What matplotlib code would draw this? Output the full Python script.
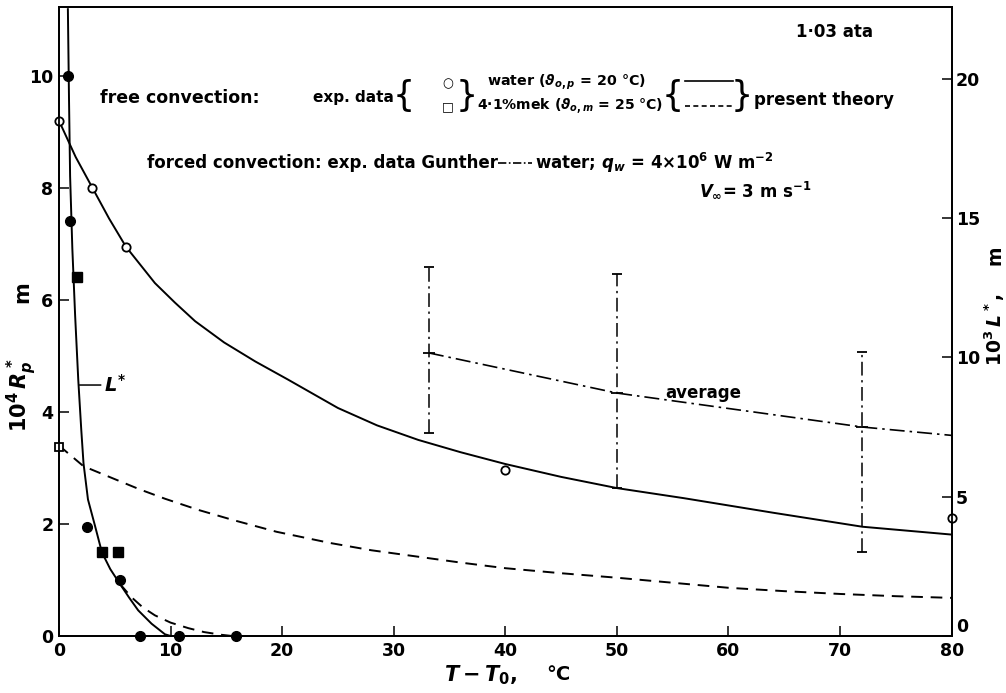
import matplotlib
matplotlib.use("Agg")
import matplotlib.pyplot as plt

plt.rcParams["font.family"] = ["DejaVu Sans"]
plt.rcParams["font.weight"] = "bold"
plt.rcParams["mathtext.fontset"] = "custom"
plt.rcParams["mathtext.rm"] = "DejaVu Sans:bold"
plt.rcParams["mathtext.bf"] = "DejaVu Sans:bold"
plt.rcParams["mathtext.it"] = "DejaVu Sans:bold:italic"

# R* (left axis, 10^4 m) - water theory (solid) and 4.1% mek theory (dashed)
rw_x = [0, 1.5, 3, 4.5, 6, 8.6, 10.4, 12.2, 14.8, 17.6, 20.5, 25, 28.5, 32.2, 36, 40,
        45, 50, 56, 64, 72, 80]
rw_y = [9.2, 8.55, 8.0, 7.45, 6.95, 6.3, 5.95, 5.62, 5.24, 4.9, 4.58, 4.07, 3.76, 3.5, 3.28, 3.07,
        2.84, 2.64, 2.46, 2.2, 1.95, 1.81]
rm_x = [0, 2.2, 5, 7.2, 9.5, 12.5, 15.6, 19.5, 24.3, 28, 32, 36, 40, 45, 50, 55, 60, 65, 70, 75, 80]
rm_y = [3.4, 3.03, 2.8, 2.62, 2.45, 2.25, 2.07, 1.86, 1.66, 1.53, 1.42, 1.31, 1.21, 1.12, 1.04,
        0.95, 0.86, 0.8, 0.75, 0.71, 0.68]

# R* exp. data
rw_pts_x = [0, 3, 6, 40, 80]
rw_pts_y = [9.2, 8.0, 6.95, 2.97, 2.1]
rm_pts_x = [0]
rm_pts_y = [3.38]

# L* (right axis, 10^3 m) - theory
lw_x = [0.8, 0.9, 1.0, 1.2, 1.45, 1.73, 2.0, 2.2, 2.6, 3.2, 3.85, 4.6, 5.46, 6.3, 7.1, 8.3, 9.5, 10.0]
lw_y = [22.5, 19.3, 16.5, 13.9, 11.5, 9.2, 7.4, 6.2, 4.9, 4.0, 3.0, 2.4, 1.87, 1.37, 0.92, 0.44, 0.06, 0.0]
lm_x = [5.46, 6.5, 7.5, 8.6, 10.0, 11.6, 13.0, 14.6, 15.5]
lm_y = [1.87, 1.39, 1.03, 0.74, 0.48, 0.28, 0.14, 0.04, 0.0]

# L* exp. data
lw_pts_x = [0.83, 1.03, 2.5, 5.5, 7.3, 10.8, 15.9]
lw_pts_y = [20.1, 14.9, 3.9, 2.0, 0.0, 0.0, 0.0]
lm_pts_x = [1.6, 3.85, 5.3]
lm_pts_y = [12.9, 3.0, 3.0]

# forced convection, Gunther (right axis)
g_x = [33.15, 50.0, 72.0]
g_mean = [10.16, 8.72, 7.5]
g_hi = [13.25, 13.0, 10.2]
g_lo = [7.3, 5.3, 3.0]
avg_x = [33.15, 50.0, 72.0, 80.0]
avg_y = [10.16, 8.72, 7.5, 7.2]

dashed = (0, (6, 4))
dashdot = (0, (9, 3, 1.5, 3))

fig = plt.figure(figsize=(10.06, 6.93), dpi=100)
ax = fig.add_axes([0.0586, 0.0823, 0.8874, 0.9077])
ax.set_xlim(0, 80)
ax.set_ylim(0, 11.23)
ax2 = ax.twinx()
ax2.set_ylim(0, 22.58)

ax.plot(rw_x, rw_y, color="k", lw=1.4)
ax.plot(rm_x, rm_y, color="k", lw=1.4, ls=dashed)
ax.plot(rw_pts_x, rw_pts_y, "o", mfc="white", mec="k", mew=1.3, ms=6, clip_on=False, zorder=5)
ax.plot(rm_pts_x, rm_pts_y, "s", mfc="white", mec="k", mew=1.3, ms=6, clip_on=False, zorder=5)

ax2.plot(lw_x, lw_y, color="k", lw=1.4)
ax2.plot(lm_x, lm_y, color="k", lw=1.4, ls=dashed)
ax2.plot(lw_pts_x, lw_pts_y, "o", color="k", ms=7, clip_on=False, zorder=5)
ax2.plot(lm_pts_x, lm_pts_y, "s", color="k", ms=7, clip_on=False, zorder=5)

ax2.plot(avg_x, avg_y, color="k", lw=1.2, ls=dashdot)
ax2.vlines(g_x, g_lo, g_hi, colors="k", lw=1.1, linestyles=dashdot)
ax2.plot(g_x, g_hi, "_", color="k", ms=7, mew=1.3)
ax2.plot(g_x, g_lo, "_", color="k", ms=7, mew=1.3)
ax2.plot(g_x, g_mean, "_", color="k", ms=9, mew=1.3)

for a in (ax, ax2):
    a.tick_params(direction="in", length=7, width=1.1, labelsize=12.5, pad=4)
    for s in a.spines.values():
        s.set_linewidth(1.3)
ax2.tick_params(axis="y", pad=3)
ax.set_xticks(range(0, 81, 10))
ax.set_yticks(range(0, 11, 2))
ax2.set_yticks(range(0, 21, 5))
ax2.get_yticklabels()[0].set_va("bottom")

# annotations
ax.text(69.5, 10.79, "1·03 ata", ha="center", va="center", fontsize=12)
ax.text(3.7, 9.61, "free convection:", va="center", fontsize=12.5)
ax.text(22.8, 9.61, "exp. data", va="center", fontsize=11)
ax.text(30.9, 9.64, "{", ha="center", va="center", fontsize=25, fontweight="normal")
ax.text(34.8, 9.86, "○", ha="center", va="center", fontsize=9)
ax.text(34.8, 9.45, "□", ha="center", va="center", fontsize=9)
ax.text(36.5, 9.64, "}", ha="center", va="center", fontsize=25, fontweight="normal")
ax.text(38.4, 9.88, r"water ($\vartheta_{o,p}$ = 20 °C)", va="center", fontsize=10.3)
ax.text(37.5, 9.47, r"4·1%mek ($\vartheta_{o,m}$ = 25 °C)", va="center", fontsize=10.1)
ax.text(55.0, 9.64, "{", ha="center", va="center", fontsize=25, fontweight="normal")
ax.plot([56.1, 60.4], [9.9, 9.9], color="k", lw=1.2)
ax.plot([56.1, 60.4], [9.46, 9.46], color="k", lw=1.2, ls=(0, (3, 2)))
ax.text(61.2, 9.64, "}", ha="center", va="center", fontsize=25, fontweight="normal")
ax.text(62.3, 9.57, "present theory", va="center", fontsize=12)
ax.text(7.9, 8.45, "forced convection: exp. data Gunther", va="center", fontsize=12)
ax.plot([39.3, 42.4], [8.45, 8.45], color="k", lw=1.2, ls=(0, (5, 1.5, 1, 1.5)))
ax.text(42.7, 8.45, r"water; $q_w$ = 4×10$^6$ W m$^{-2}$", va="center", fontsize=12)
ax.text(57.4, 7.96, r"$V_\infty$= 3 m s$^{-1}$", va="center", fontsize=12)
ax2.text(54.3, 8.72, "average", va="center", fontsize=12)
ax.annotate(r"$L^{*}$", xy=(1.85, 4.48), xytext=(4.0, 4.48), va="center", fontsize=14,
            arrowprops=dict(arrowstyle="-", lw=1.1, color="k", shrinkA=0, shrinkB=0))

# axis labels
fig.text(0.022, 0.43, r"$10^4\,R_p^*$", rotation=90, ha="center", va="center", fontsize=15)
fig.text(0.022, 0.579, "m", rotation=90, ha="center", va="center", fontsize=15)
fig.text(0.989, 0.524, r"$10^3\,L^*$,", rotation=90, ha="center", va="center", fontsize=13.5)
fig.text(0.989, 0.632, "m", rotation=90, ha="center", va="center", fontsize=13.5)
fig.text(0.478, 0.025, r"$T-T_0$,", ha="center", va="center", fontsize=15)
fig.text(0.555, 0.027, "°C", ha="center", va="center", fontsize=14)

fig.savefig("out.png", dpi=100)
